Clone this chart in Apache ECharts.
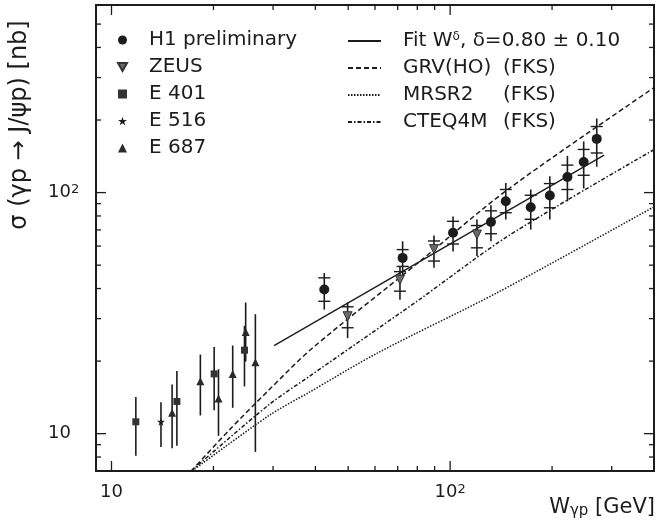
<!DOCTYPE html>
<html>
<head>
<meta charset="utf-8">
<script src="https://cdn.jsdelivr.net/npm/echarts@6/dist/echarts.min.js"></script>
<style>
html, body { margin: 0; padding: 0; background: #fff; }
#main { width: 657px; height: 526px; }
</style>
</head>
<body>
<div id="main"></div>
<script>
// ---- data ----
// H1 preliminary: W, sigma, full error low/high, inner tick low/high
var h1W   = [42.5, 72.4, 102, 132, 146, 173, 197, 222, 248, 271];
var h1Sig = [39.6, 53.6, 68.1, 75.5, 92.1, 86.9, 97.2, 116, 134, 167];
var h1Lo  = [32.7, 45.4, 57.0, 62.8, 77.3, 70.2, 77.3, 92, 104, 128];
var h1Hi  = [46.4, 62.8, 79.5, 88.6, 109.6, 103, 117, 142, 163, 203];
var h1TLo = [35.4, 49.4, 61.2, 67.5, 82.5, 77.5, 86.5, 103, 118, 146];
var h1THi = [44.3, 58.0, 76.0, 84.0, 103, 97.5, 109, 130, 151, 188];

// ZEUS
var zeusW   = [49.8, 71.1, 89.6, 120];
var zeusSig = [30.7, 43.5, 58.3, 67.0];
var zeusLo  = [24.9, 35.9, 48.8, 54.6];
var zeusHi  = [35.0, 49.4, 66.4, 77.3];
var zeusTLo = [27.5, 39.0, 52.0, 59.0];
var zeusTHi = [33.6, 47.0, 63.0, 73.0];

// fixed target experiments
var e401W   = [11.8, 15.6, 20.1, 24.7];
var e401Sig = [11.2, 13.6, 17.7, 22.2];
var e401Lo  = [8.1, 8.9, 12.5, 15.7];
var e401Hi  = [14.2, 18.2, 22.9, 28.0];

var e516W   = [14.0];
var e516Sig = [11.2];
var e516Lo  = [8.8];
var e516Hi  = [13.5];

var e687W   = [15.1, 18.3, 20.7, 22.8, 24.9, 26.6];
var e687Sig = [12.2, 16.5, 14.0, 17.7, 26.4, 19.8];
var e687Lo  = [8.7, 11.9, 9.8, 12.8, 19.9, 8.4];
var e687Hi  = [16.0, 21.3, 18.5, 23.2, 35.0, 31.3];

// curves
var fitW    = [30.2, 285];
var fitSig  = [23.2, 143];
var grvW    = [17.2, 22.2, 29.2, 39.0, 80.5, 148, 401];
var grvSig  = [7.0, 10.3, 15.2, 22.5, 51.2, 103, 273];
var cteqW   = [17.2, 29.2, 38.2, 80, 148, 401];
var cteqSig = [7.0, 13.2, 17.2, 35.5, 65.9, 151];
var mrsW    = [17.3, 29.2, 38.2, 61.4, 138, 401];
var mrsSig  = [7.0, 11.9, 14.8, 21.7, 38.5, 87.5];

// axis ticks
var xMajor = [10, 100];
var xMinor = [20, 30, 40, 50, 60, 70, 80, 90, 200, 300];
var yMajor = [10, 100];
var yMinor = [7, 8, 9, 20, 30, 40, 50, 60, 70, 80, 90, 200, 300, 400, 500];

var ink = '#1c1c1c';
var font = 'DejaVu Sans';
var fitName = 'Fit W^δ, δ=0.80 ± 0.10';

function pairs(xs, ys) {
    return xs.map(function (x, i) { return [x, ys[i]]; });
}
function errRows(xs, lo, hi, tlo, thi) {
    return xs.map(function (x, i) {
        return [x, lo[i], hi[i], tlo ? tlo[i] : NaN, thi ? thi[i] : NaN];
    });
}

function errRender(params, api) {
    var x = api.value(0);
    var a = api.coord([x, api.value(1)]);
    var b = api.coord([x, api.value(2)]);
    var kids = [{
        type: 'line',
        shape: { x1: a[0], y1: a[1], x2: b[0], y2: b[1] },
        style: { stroke: ink, lineWidth: 1.6 }
    }];
    [3, 4].forEach(function (d) {
        var v = api.value(d);
        if (!isNaN(v)) {
            var p = api.coord([x, v]);
            kids.push({
                type: 'line',
                shape: { x1: p[0] - 6, y1: p[1], x2: p[0] + 6, y2: p[1] },
                style: { stroke: ink, lineWidth: 1.4 }
            });
        }
    });
    return { type: 'group', children: kids };
}

function errSeries(name, rows) {
    return {
        name: name + ' err',
        type: 'custom',
        renderItem: errRender,
        encode: { x: 0, y: [1, 2] },
        data: rows,
        silent: true,
        z: 2
    };
}

// frame ticks on all four sides
var tickRows = [];
xMajor.forEach(function (v) { tickRows.push([v, 10, 1, 0]); });
xMinor.forEach(function (v) { tickRows.push([v, 10, 0, 0]); });
yMajor.forEach(function (v) { tickRows.push([10, v, 1, 1]); });
yMinor.forEach(function (v) { tickRows.push([10, v, 0, 1]); });

function tickRender(params, api) {
    var cs = params.coordSys;
    var len = api.value(2) ? 10 : 5;
    var st = { stroke: ink, lineWidth: 1.3 };
    if (api.value(3) === 0) {
        var px = api.coord([api.value(0), 10])[0];
        return { type: 'group', children: [
            { type: 'line', shape: { x1: px, y1: cs.y + cs.height, x2: px, y2: cs.y + cs.height - len }, style: st },
            { type: 'line', shape: { x1: px, y1: cs.y, x2: px, y2: cs.y + len }, style: st }
        ] };
    }
    var py = api.coord([10, api.value(1)])[1];
    return { type: 'group', children: [
        { type: 'line', shape: { x1: cs.x, y1: py, x2: cs.x + len, y2: py }, style: st },
        { type: 'line', shape: { x1: cs.x + cs.width, y1: py, x2: cs.x + cs.width - len, y2: py }, style: st }
    ] };
}

function decadeLabel(v) {
    var l = Math.log10(v);
    if (Math.abs(l - Math.round(l)) > 1e-6) return '';
    var n = Math.round(l);
    if (n === 1) return '10';
    return '10{s|' + n + '}';
}

var starPath = 'path://M50 0 L61 35 L98 35 L68 57 L79 91 L50 70 L21 91 L32 57 L2 35 L39 35 Z';
var downTri = 'path://M0 0 L10 0 L5 9 Z';

var chart = echarts.init(document.getElementById('main'));
var option = {
    backgroundColor: '#fff',
    animation: false,
    grid: {
        left: 96, right: 2, top: 5, bottom: 55,
        show: true, borderColor: ink, borderWidth: 2
    },
    xAxis: {
        type: 'log', logBase: 10, min: 9, max: 400,
        axisLine: { show: false }, axisTick: { show: false }, splitLine: { show: false },
        axisLabel: {
            margin: 12, color: ink, fontSize: 18, fontFamily: font,
            formatter: decadeLabel,
            rich: { s: { fontSize: 13, fontFamily: font, color: ink, verticalAlign: 'top' } }
        }
    },
    yAxis: {
        type: 'log', logBase: 10, min: 7, max: 600,
        axisLine: { show: false }, axisTick: { show: false }, splitLine: { show: false },
        axisLabel: {
            margin: 48, align: 'left', color: ink, fontSize: 18, fontFamily: font,
            formatter: decadeLabel,
            rich: { s: { fontSize: 13, fontFamily: font, color: ink, verticalAlign: 'top' } }
        }
    },
    legend: [{
        data: ['H1 preliminary', { name: 'ZEUS', icon: downTri }, 'E 401', 'E 516', 'E 687'],
        orient: 'vertical', left: 112, top: 25,
        itemWidth: 9, itemHeight: 9, itemGap: 7,
        selectedMode: false,
        formatter: function (n) { return '{p| }' + n; },
        textStyle: { color: ink, fontSize: 20, fontFamily: font, rich: { p: { width: 17 } } }
    }, {
        data: [fitName, 'GRV(HO) (FKS)', 'MRSR2 (FKS)', 'CTEQ4M (FKS)'],
        orient: 'vertical', left: 342, top: 26,
        itemWidth: 33, itemHeight: 14, itemGap: 7,
        selectedMode: false,
        itemStyle: { opacity: 0 },
        formatter: function (n) {
            if (n === fitName) return '{p| }Fit W{s|δ}, δ=0.80 ± 0.10';
            var parts = n.split(' ');
            return '{p| }{a|' + parts[0] + '}' + parts[1];
        },
        textStyle: {
            color: ink, fontSize: 20, fontFamily: font,
            rich: {
                p: { width: 17 },
                a: { width: 100, fontSize: 20, fontFamily: font, color: ink },
                s: { fontSize: 12, fontFamily: font, color: ink, verticalAlign: 'top' }
            }
        }
    }],
    graphic: [{
        type: 'text', x: 20, y: 125, rotation: Math.PI / 2,
        style: {
            text: 'σ (γp → J/ψp) [nb]',
            fontSize: 24, fontFamily: font, fill: ink,
            align: 'center', verticalAlign: 'middle'
        }
    }, {
        type: 'text', x: 655, y: 508,
        style: {
            text: 'W{s|γp} [GeV]',
            fontSize: 21, fontFamily: font, fill: ink,
            align: 'right', verticalAlign: 'middle',
            rich: { s: { fontSize: 15, fontFamily: font, fill: ink, verticalAlign: 'bottom' } }
        }
    }],
    series: [
        {
            name: 'ticks', type: 'custom', renderItem: tickRender,
            encode: { x: 0, y: 1 }, data: tickRows, silent: true, clip: false, z: 1
        },
        errSeries('H1', errRows(h1W, h1Lo, h1Hi, h1TLo, h1THi)),
        errSeries('ZEUS', errRows(zeusW, zeusLo, zeusHi, zeusTLo, zeusTHi)),
        errSeries('E401', errRows(e401W, e401Lo, e401Hi)),
        errSeries('E516', errRows(e516W, e516Lo, e516Hi)),
        errSeries('E687', errRows(e687W, e687Lo, e687Hi)),
        {
            name: fitName, type: 'line', data: pairs(fitW, fitSig),
            symbol: 'none', lineStyle: { color: ink, width: 1.4, type: 'solid' },
            itemStyle: { color: ink }, z: 3
        },
        {
            name: 'GRV(HO) (FKS)', type: 'line', data: pairs(grvW, grvSig),
            symbol: 'none', smooth: 0.3,
            lineStyle: { color: ink, width: 1.5, type: [5, 3] },
            itemStyle: { color: ink }, z: 3
        },
        {
            name: 'MRSR2 (FKS)', type: 'line', data: pairs(mrsW, mrsSig),
            symbol: 'none', smooth: 0.3,
            lineStyle: { color: ink, width: 1.5, type: [1.5, 1.5] },
            itemStyle: { color: ink }, z: 3
        },
        {
            name: 'CTEQ4M (FKS)', type: 'line', data: pairs(cteqW, cteqSig),
            symbol: 'none', smooth: 0.3,
            lineStyle: { color: ink, width: 1.5, type: [4, 2, 1.5, 2] },
            itemStyle: { color: ink }, z: 3
        },
        {
            name: 'H1 preliminary', type: 'scatter', data: pairs(h1W, h1Sig),
            symbol: 'circle', symbolSize: 10, itemStyle: { color: ink, opacity: 1 }, z: 5
        },
        {
            name: 'ZEUS', type: 'scatter', data: pairs(zeusW, zeusSig),
            symbol: 'triangle', symbolRotate: 180, symbolSize: 9,
            itemStyle: { color: '#6a6a6a', borderColor: '#333', borderWidth: 1, opacity: 1 }, z: 5
        },
        {
            name: 'E 401', type: 'scatter', data: pairs(e401W, e401Sig),
            symbol: 'rect', symbolSize: 7, itemStyle: { color: '#333', opacity: 1 }, z: 5
        },
        {
            name: 'E 516', type: 'scatter', data: pairs(e516W, e516Sig),
            symbol: starPath, symbolSize: 8, itemStyle: { color: ink, opacity: 1 }, z: 5
        },
        {
            name: 'E 687', type: 'scatter', data: pairs(e687W, e687Sig),
            symbol: 'triangle', symbolSize: 8, itemStyle: { color: '#2a2a2a', opacity: 1 }, z: 5
        }
    ]
};
chart.setOption(option);
window.addEventListener('resize', function () { chart.resize(); });
</script>
</body>
</html>
